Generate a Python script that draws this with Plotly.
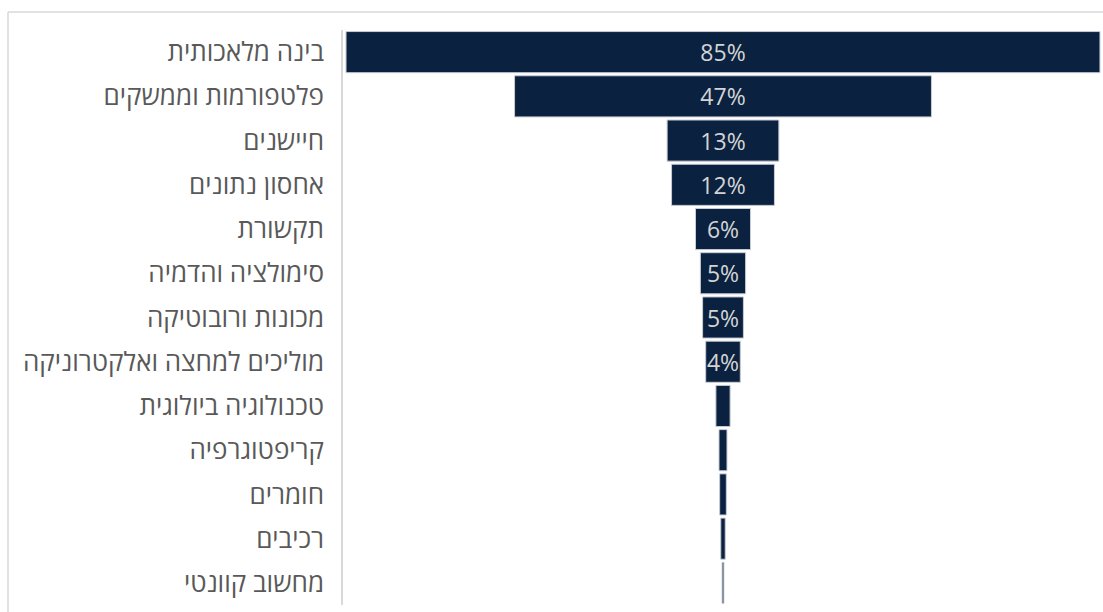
import plotly.graph_objects as go

# Share of companies by technology field (%)
fields = [
    "בינה מלאכותית",
    "פלטפורמות וממשקים",
    "חיישנים",
    "אחסון נתונים",
    "תקשורת",
    "סימולציה והדמיה",
    "מכונות ורובוטיקה",
    "מוליכים למחצה ואלקטרוניקה",
    "טכנולוגיה ביולוגית",
    "קריפטוגרפיה",
    "חומרים",
    "רכיבים",
    "מחשוב קוונטי",
]
shares = [85, 47, 12.6, 11.6, 6.2, 5.1, 4.6, 3.9, 1.6, 0.9, 0.75, 0.5, 0.2]
# Only the wider bars carry a value label
show_label = [True] * 8 + [False] * 5

NAVY = "#0a2240"
LABEL_GREY = "#595959"

fig = go.Figure(
    go.Funnel(
        y=fields,
        x=shares,
        texttemplate=["%{x:.0f}%" if s else "" for s in show_label],
        textposition="inside",
        insidetextanchor="middle",
        constraintext="none",
        textfont=dict(family="Open Sans", size=23, color="#d4d4d4"),
        marker=dict(color=NAVY, line=dict(color="#c8ccd4", width=1)),
        connector=dict(visible=False),
        hoverinfo="y+x",
    )
)

half = 42.84
fig.update_layout(
    width=1103,
    height=612,
    margin=dict(l=343, r=0, t=30, b=7),
    paper_bgcolor="white",
    plot_bgcolor="white",
    showlegend=False,
    font=dict(family="Open Sans", color=LABEL_GREY),
    funnelgap=0.07,
    xaxis=dict(range=[-half, half], visible=False, fixedrange=True),
    yaxis=dict(
        showline=True,
        linecolor="#d9d9d9",
        linewidth=1.5,
        showgrid=False,
        ticks="",
        ticklabelstandoff=12,
        tickfont=dict(family="Open Sans", size=26, color=LABEL_GREY),
    ),
    shapes=[
        # outer frame: top and left edges
        dict(type="line", xref="paper", yref="paper",
             x0=(8 - 343) / 760, x1=1.01, y0=(612 - 7 - 12) / 575, y1=(612 - 7 - 12) / 575,
             line=dict(color="#d9d9d9", width=1.5)),
        dict(type="line", xref="paper", yref="paper",
             x0=(8 - 343) / 760, x1=(8 - 343) / 760, y0=-0.05, y1=(612 - 7 - 12) / 575,
             line=dict(color="#d9d9d9", width=1.5)),
    ],
)

fig.write_html("out.html")
